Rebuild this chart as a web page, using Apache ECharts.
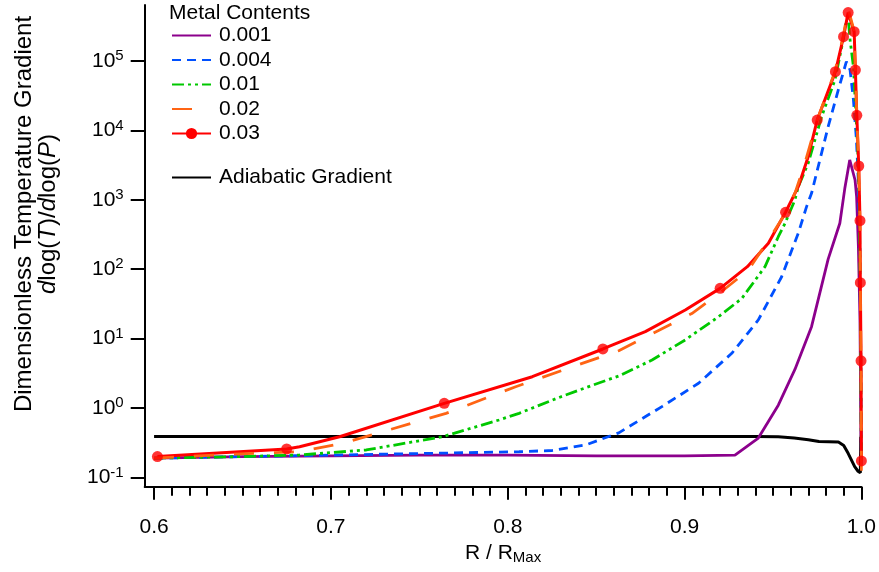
<!DOCTYPE html>
<html><head><meta charset="utf-8">
<script src="https://cdn.jsdelivr.net/npm/echarts@6/dist/echarts.min.js"></script>
<style>html,body{margin:0;padding:0;background:#fff}#c{width:879px;height:572px}</style>
</head><body><div id="c"></div>
<script>
// ---- tick values ----
const xMajorTicks = [0.6, 0.7, 0.8, 0.9, 1.0];
const xMinorTicks = [0.61,0.62,0.63,0.64,0.65,0.66,0.67,0.68,0.69,
  0.71,0.72,0.73,0.74,0.75,0.76,0.77,0.78,0.79,
  0.81,0.82,0.83,0.84,0.85,0.86,0.87,0.88,0.89,
  0.91,0.92,0.93,0.94,0.95,0.96,0.97,0.98,0.99];
const yTicks = [0.1, 1, 10, 100, 1000, 10000, 100000];

// ---- series names ----
const seriesNames = ['0.001', '0.004', '0.01', '0.02', '0.03'];
const adiabaticName = 'Adiabatic Gradient';

// ---- Z = 0.001 ----
const m001X = [0.6, 0.65, 0.7, 0.75, 0.8, 0.85, 0.9, 0.9285, 0.9417, 0.953, 0.9624, 0.9718, 0.9812, 0.9878, 0.9906, 0.9934, 0.9964, 0.9973, 0.9983, 0.9992, 0.9996, 0.9999];
const m001Y = [0.19, 0.2, 0.205, 0.21, 0.21, 0.205, 0.205, 0.21, 0.37, 1.1, 3.6, 14.9, 140, 460, 1450, 3750, 1930, 1100, 211, 18.6, 1.0, 0.16];

// ---- Z = 0.004 ----
const m004X = [0.6, 0.65, 0.7, 0.7575, 0.8064, 0.8252, 0.844, 0.8628, 0.8872, 0.9079, 0.9267, 0.9417, 0.9549, 0.9643, 0.969, 0.9718, 0.9812, 0.9869, 0.9915, 0.9936, 0.9955, 0.9972, 0.9983, 0.9992, 0.9997, 1.0];
const m004Y = [0.19, 0.2, 0.21, 0.223, 0.235, 0.245, 0.294, 0.44, 1.05, 2.28, 6.15, 18.6, 78, 330, 798, 1240, 11300, 38000, 98000, 74000, 27400, 7300, 1740, 150, 3, 0.15];

// ---- Z = 0.01 ----
const m01X = [0.6, 0.65, 0.6823, 0.72, 0.7631, 0.7951, 0.8064, 0.829, 0.8515, 0.8628, 0.8816, 0.9004, 0.9192, 0.9324, 0.9455, 0.953, 0.9568, 0.9624, 0.9643, 0.9699, 0.9775, 0.985, 0.9897, 0.9915, 0.9925, 0.9936, 0.9955, 0.9968, 0.998, 0.9988, 0.9994, 0.9998, 1.0];
const m01Y = [0.19, 0.2, 0.211, 0.249, 0.387, 0.674, 0.84, 1.42, 2.3, 2.9, 4.93, 9.6, 20.7, 38, 109, 294, 459, 996, 1545, 3360, 15800, 53000, 200000, 390000, 417000, 200000, 83000, 19700, 4700, 1000, 36, 1, 0.15];

// ---- Z = 0.02 ----
const m02X = [0.6, 0.6429, 0.6823, 0.7068, 0.7293, 0.7651, 0.8045, 0.8421, 0.8628, 0.9041, 0.9192, 0.9361, 0.9474, 0.9571, 0.9624, 0.968, 0.975, 0.985, 0.9899, 0.9925, 0.9959, 0.9966, 0.9974, 0.9985, 0.9992, 0.9994, 0.9998, 1.0];
const m02Y = [0.19, 0.216, 0.235, 0.311, 0.457, 0.84, 2.03, 4.4, 6.7, 23, 44, 97, 264, 640, 1240, 3360, 14100, 70000, 240000, 570000, 270000, 75000, 16500, 3070, 500, 64, 4.8, 0.1];

// ---- Z = 0.03 (line) ----
const m03X = [0.6019, 0.675, 0.6823, 0.7049, 0.7641, 0.8139, 0.8538, 0.8778, 0.9004, 0.9201, 0.9355, 0.9474, 0.9571, 0.9643, 0.9699, 0.975, 0.9853, 0.9899, 0.9925, 0.9959, 0.9966, 0.9974, 0.9985, 0.9992, 0.9994, 0.9998, 1.0];
const m03Y = [0.20, 0.258, 0.278, 0.387, 1.17, 2.83, 7.1, 12.6, 25.9, 53, 109, 237, 661, 1545, 4180, 14100, 70000, 224000, 497000, 264000, 74000, 16500, 3070, 500, 64, 4.8, 0.173];
// ---- Z = 0.03 (marker points) ----
const m03MarkX = [0.6019, 0.675, 0.7641, 0.8538, 0.9201, 0.9571, 0.975, 0.9853, 0.9899, 0.9925, 0.9959, 0.9966, 0.9974, 0.9985, 0.9992, 0.9994, 0.9998, 1.0];
const m03MarkY = [0.20, 0.258, 1.17, 7.1, 53, 661, 14100, 70000, 224000, 497000, 264000, 74000, 16500, 3070, 500, 64, 4.8, 0.173];

// ---- Adiabatic gradient ----
const adX = [0.6, 0.7, 0.8, 0.9, 0.94, 0.953, 0.962, 0.97, 0.976, 0.987, 0.99, 0.9925, 0.9962, 0.9981, 0.9994, 0.9996];
const adY = [0.39, 0.39, 0.39, 0.39, 0.388, 0.385, 0.37, 0.35, 0.33, 0.325, 0.29, 0.223, 0.143, 0.123, 0.117, 0.387];

const pairs = (xs, ys) => xs.map((x, i) => [x, ys[i]]);
const FONT = '"Liberation Sans", Arial, Helvetica, sans-serif';

const chart = echarts.init(document.getElementById('c'), null, {renderer: 'canvas'});
const lineSeries = (name, xs, ys, color, dash, width) => ({
  name: name, type: 'line', data: pairs(xs, ys), showSymbol: false, symbol: 'none',
  lineStyle: {color: color, width: width, type: dash}, itemStyle: {color: color},
  animation: false, clip: true
});
const noSym = {opacity: 0};
const legendText = {fontFamily: FONT, fontSize: 21, lineHeight: 20, color: '#000', padding: [0, 0, 0, 3]};

const option = {
  animation: false,
  backgroundColor: '#ffffff',
  title: {text: 'Metal Contents', left: 169, top: 3, padding: 0,
    textStyle: {fontFamily: FONT, fontSize: 21, fontWeight: 'normal', color: '#000'}},
  grid: {left: 144.7, right: 15.7, top: 5, bottom: 85.3, containLabel: false},
  legend: [
    {data: [
       {name: seriesNames[0], itemStyle: noSym},
       {name: seriesNames[1], itemStyle: noSym},
       {name: seriesNames[2], itemStyle: noSym},
       {name: seriesNames[3], itemStyle: noSym},
       {name: seriesNames[4]}],
     orient: 'vertical', left: 171, top: 25, padding: 0,
     itemWidth: 39, itemHeight: 14, itemGap: 3.5, selectedMode: false, textStyle: legendText},
    {data: [{name: adiabaticName, itemStyle: noSym}], orient: 'vertical', left: 171, top: 167, padding: 0,
     itemWidth: 39, itemHeight: 14, selectedMode: false, textStyle: legendText}
  ],
  xAxis: [
    {type: 'value', min: 0.5947, max: 1.0, position: 'bottom',
     axisLine: {show: true, onZero: false, lineStyle: {color: '#000', width: 2}},
     axisTick: {show: true, customValues: xMajorTicks, length: 13, lineStyle: {color: '#000', width: 2}},
     axisLabel: {show: true, customValues: xMajorTicks, formatter: v => v.toFixed(1), margin: 30,
       fontFamily: FONT, fontSize: 21, color: '#000'},
     splitLine: {show: false},
     name: 'R / R{sub|Max}', nameLocation: 'middle', nameGap: 52,
     nameTextStyle: {fontFamily: FONT, fontSize: 21, color: '#000',
       rich: {sub: {fontFamily: FONT, fontSize: 15, color: '#000', padding: [10, 0, 0, 0]}}}},
    {type: 'value', min: 0.5947, max: 1.0, position: 'bottom',
     axisLine: {show: false, onZero: false},
     axisTick: {show: true, customValues: xMinorTicks, length: 9, lineStyle: {color: '#000', width: 2}},
     axisLabel: {show: false}, splitLine: {show: false}}
  ],
  yAxis: {
    type: 'log', logBase: 10, min: 0.0737, max: 640000,
    axisLine: {show: true, onZero: false, lineStyle: {color: '#000', width: 2}},
    axisTick: {show: true, customValues: yTicks, length: 14, lineStyle: {color: '#000', width: 2}},
    axisLabel: {show: true, customValues: yTicks, margin: 21,
      formatter: v => '10{sup|' + Math.round(Math.log10(v)) + '}',
      fontFamily: FONT, fontSize: 21, color: '#000',
      rich: {sup: {fontFamily: FONT, fontSize: 15, color: '#000', padding: [0, 0, 10, 0]}}},
    splitLine: {show: false}, minorTick: {show: false}
  },
  graphic: [
    {type: 'text', x: 36, y: 214, rotation: Math.PI / 2,
     style: {text: 'Dimensionless Temperature Gradient\n{i|d}{n|log(}{i|T}{n|)/}{i|d}{n|log(}{i|P}{n|)}',
       fontFamily: FONT, fontSize: 24, lineHeight: 24, fill: '#000', align: 'center', verticalAlign: 'middle',
       rich: {i: {fontFamily: FONT, fontSize: 24, lineHeight: 24, fontStyle: 'italic', fill: '#000'},
              n: {fontFamily: FONT, fontSize: 24, lineHeight: 24, fill: '#000'}}}}
  ],
  series: [
    lineSeries(adiabaticName, adX, adY, '#000000', 'solid', 3),
    lineSeries('0.001', m001X, m001Y, '#8c008c', 'solid', 2.8),
    lineSeries('0.004', m004X, m004Y, '#0050ff', [9, 6], 2.8),
    lineSeries('0.01', m01X, m01Y, '#00c800', [12, 4, 3, 4, 3, 4], 2.8),
    Object.assign(lineSeries('0.03', m03X, m03Y, '#ff0000', 'solid', 3), {symbol: 'circle', symbolSize: 11, showSymbol: false}),
    lineSeries('0.02', m02X, m02Y, '#ff6414', [20, 20], 2.8),
    {name: '0.03', type: 'scatter', data: pairs(m03MarkX, m03MarkY), symbol: 'circle', symbolSize: 11,
     itemStyle: {color: '#ff0000'}, z: 3}
  ]
};
chart.setOption(option);
</script>
</body></html>
